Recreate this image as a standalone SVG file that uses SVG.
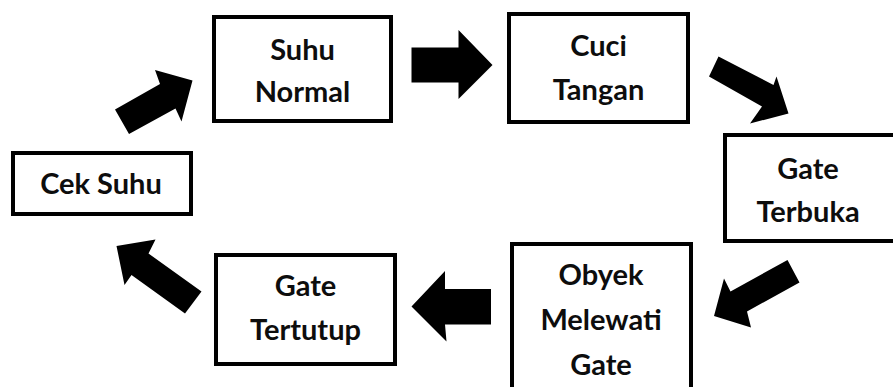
<svg xmlns="http://www.w3.org/2000/svg" width="893" height="387" viewBox="0 0 893 387">
  <style>
    .box { fill: #ffffff; stroke: #000000; stroke-width: 4; }
    .lbl { font-family: Lato, "Open Sans", "Liberation Sans", sans-serif; font-weight: 700; font-size: 29px; fill: #0d0d0d; text-anchor: middle; }
    .arrow { fill: #000000; }
  </style>
  <rect width="893" height="387" fill="#ffffff"/>

  <g id="connectors">
    <!-- Cek Suhu -> Suhu Normal -->
    <polygon class="arrow" points="115,109.5 160,84 155,70 192.5,80.5 181.5,121.5 175.5,108.5 129,134"/>
    <!-- Suhu Normal -> Cuci Tangan -->
    <polygon class="arrow" points="411.5,47.5 458.5,47.5 458.5,30 492.5,65 458.5,99 458.5,82.5 411.5,82.5"/>
    <!-- Cuci Tangan -> Gate Terbuka -->
    <polygon class="arrow" points="718.5,56.5 773.5,85 776.5,76.5 788.5,113.5 750,123.5 762,106.5 709,76.5"/>
    <!-- Gate Terbuka -> Obyek Melewati Gate -->
    <polygon class="arrow" points="787.5,260 799.5,282.5 747,311.5 751,327.5 714,316 724,278.5 730.5,291.5"/>
    <!-- Obyek Melewati Gate -> Gate Tertutup -->
    <polygon class="arrow" points="491,289 445,289 445,271 411.5,306.5 446.5,341.5 445,324.5 491,324.5"/>
    <!-- Gate Tertutup -> Cek Suhu -->
    <polygon class="arrow" points="201.5,291.5 148.5,253.5 155.5,239.5 116.5,246 124.5,285 131.5,275 185,313.5"/>
  </g>

  <g id="cek-suhu">
    <rect class="box" x="13" y="153" width="178" height="61"/>
    <text class="lbl" x="101" y="194">Cek Suhu</text>
  </g>

  <g id="suhu-normal">
    <rect class="box" x="214" y="17" width="177" height="104"/>
    <text class="lbl" x="302.5" y="59.5">Suhu</text>
    <text class="lbl" x="302.5" y="101.5">Normal</text>
  </g>

  <g id="cuci-tangan">
    <rect class="box" x="509" y="14" width="179" height="108"/>
    <text class="lbl" x="598.5" y="55.5">Cuci</text>
    <text class="lbl" x="598.5" y="99.5">Tangan</text>
  </g>

  <g id="gate-terbuka">
    <rect class="box" x="725" y="135" width="180" height="106"/>
    <text class="lbl" x="808" y="178.5">Gate</text>
    <text class="lbl" x="808" y="221.5">Terbuka</text>
  </g>

  <g id="obyek-melewati-gate">
    <rect class="box" x="512" y="244" width="179" height="160"/>
    <text class="lbl" x="601" y="285">Obyek</text>
    <text class="lbl" x="601" y="330">Melewati</text>
    <text class="lbl" x="601" y="374.5">Gate</text>
  </g>

  <g id="gate-tertutup">
    <rect class="box" x="216" y="255" width="179" height="109"/>
    <text class="lbl" x="305.5" y="296">Gate</text>
    <text class="lbl" x="305.5" y="340">Tertutup</text>
  </g>
</svg>
